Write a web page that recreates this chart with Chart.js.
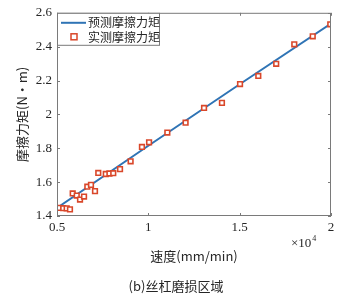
<!DOCTYPE html>
<html>
<head>
<meta charset="utf-8">
<script src="https://cdn.jsdelivr.net/npm/chart.js@4"></script>
<style>
  html, body { margin: 0; padding: 0; background: #fff; }
  #wrap { width: 349px; height: 298px; }
</style>
</head>
<body>
<div id="wrap"><canvas id="myChart" width="349" height="298"></canvas></div>
<script>
// speed in units of 10^4 mm/min, torque in N·m
const measuredSpeed = [0.511, 0.534, 0.553, 0.571, 0.586, 0.608, 0.626, 0.648, 0.666, 0.686,
    0.708, 0.726, 0.767, 0.787, 0.808, 0.845, 0.903, 0.965, 1.004, 1.104,
    1.204, 1.305, 1.403, 1.502, 1.602, 1.700, 1.799, 1.900, 1.996];
const measuredTorque = [1.448, 1.446, 1.445, 1.439, 1.533, 1.521, 1.497, 1.515, 1.573, 1.584,
    1.547, 1.654, 1.648, 1.651, 1.653, 1.677, 1.723, 1.808, 1.835, 1.893,
    1.951, 2.038, 2.068, 2.179, 2.227, 2.299, 2.414, 2.461, 2.532];
const predictedSpeed = [0.5, 1.0, 1.5, 2.0];
const predictedTorque = [1.448, 1.815, 2.178, 2.537];
const xTicks = [0.5, 1, 1.5, 2];
const yTicks = [1.4, 1.6, 1.8, 2, 2.2, 2.4, 2.6];
const seriesNames = ['预测摩擦力矩', '实测摩擦力矩'];

const lineColor = '#2f74b5';
const markColor = '#d9472a';
const textColor = '#262626';
const serif = "'Liberation Serif', 'Times New Roman', 'DejaVu Serif', serif";
const cjk = "'Noto Sans CJK SC', 'Liberation Serif', serif";

// box, inner ticks, legend and axis titles
const decor = {
    id: 'decor',
    afterDraw(chart) {
        const c = chart.ctx;
        const a = chart.chartArea;
        const xs = chart.scales.x, ys = chart.scales.y;
        c.save();
        c.strokeStyle = '#7a7a7a';
        c.lineWidth = 1;
        c.strokeRect(a.left + 0.5, a.top + 0.5, a.right - a.left - 1, a.bottom - a.top - 1);
        c.beginPath();
        xTicks.forEach(v => {
            const px = Math.round(xs.getPixelForValue(v)) + 0.5;
            c.moveTo(px, a.bottom); c.lineTo(px, a.bottom - 3);
            c.moveTo(px, a.top); c.lineTo(px, a.top + 3);
        });
        yTicks.forEach(v => {
            const py = Math.round(ys.getPixelForValue(v)) + 0.5;
            c.moveTo(a.left, py); c.lineTo(a.left + 3, py);
            c.moveTo(a.right, py); c.lineTo(a.right - 3, py);
        });
        c.stroke();

        // legend
        const lx = a.left, ly = a.top;
        c.fillStyle = '#fff';
        c.fillRect(lx + 0.5, ly + 0.5, 102, 32);
        c.strokeStyle = '#7a7a7a';
        c.strokeRect(lx + 0.5, ly + 0.5, 102, 32);
        c.strokeStyle = lineColor;
        c.lineWidth = 2;
        c.beginPath();
        c.moveTo(lx + 4, ly + 10); c.lineTo(lx + 29, ly + 10);
        c.stroke();
        c.lineWidth = 1.5;
        c.strokeStyle = markColor;
        c.fillStyle = '#fff';
        c.fillRect(lx + 14, ly + 21, 6, 6);
        c.strokeRect(lx + 14, ly + 21, 6, 6);
        c.fillStyle = textColor;
        c.font = "12px " + cjk;
        c.textAlign = 'left';
        c.textBaseline = 'middle';
        c.fillText(seriesNames[0], lx + 31, ly + 10);
        c.fillText(seriesNames[1], lx + 31, ly + 25);

        // axis titles
        c.textAlign = 'center';
        c.font = "13px " + cjk;
        c.fillText('速度(mm/min)', (a.left + a.right) / 2, 256);
        c.font = "13px " + serif;
        c.textAlign = 'left';
        c.fillText('×10', 291, 244);
        const w = c.measureText('×10').width;
        c.font = "8px " + serif;
        c.fillText('4', 291 + w + 1, 239);
        c.font = "13px " + cjk;
        c.textAlign = 'center';
        c.fillText('(b)丝杠磨损区域', 176, 286);
        c.translate(22, (a.top + a.bottom) / 2);
        c.rotate(-Math.PI / 2);
        c.fillText('摩擦力矩(N·m)', 0, 0);
        c.restore();
    }
};

const tickFmt = v => String(Math.round(v * 10) / 10);

const ctx = document.getElementById('myChart').getContext('2d');
const myChart = new Chart(ctx, {
    type: 'scatter',
    data: {
        datasets: [{
            label: seriesNames[0],
            type: 'line',
            data: predictedSpeed.map((s, i) => ({x: s, y: predictedTorque[i]})),
            borderColor: lineColor,
            borderWidth: 2,
            pointRadius: 0,
            fill: false,
            tension: 0,
            order: 2
        }, {
            label: seriesNames[1],
            data: measuredSpeed.map((s, i) => ({x: s, y: measuredTorque[i]})),
            pointStyle: 'rect',
            pointRadius: 3.3,
            borderColor: markColor,
            backgroundColor: '#fff',
            borderWidth: 1.6,
            order: 1
        }]
    },
    options: {
        responsive: false,
        animation: false,
        devicePixelRatio: 1,
        layout: { padding: { left: 0, right: 18, top: 9, bottom: 0 } },
        plugins: { legend: { display: false }, tooltip: { enabled: false } },
        scales: {
            x: {
                type: 'linear',
                min: 0.5,
                max: 2,
                afterBuildTicks: s => { s.ticks = xTicks.map(v => ({value: v})); },
                afterFit: s => { s.height = 82; },
                grid: { display: false, drawTicks: false, tickLength: 0 },
                border: { display: false },
                ticks: { color: textColor, font: { family: serif, size: 13 }, padding: 4, maxRotation: 0, callback: tickFmt }
            },
            y: {
                min: 1.4,
                max: 2.6,
                afterBuildTicks: s => { s.ticks = yTicks.map(v => ({value: v})); },
                afterFit: s => { s.width = 57; },
                grid: { display: false, drawTicks: false, tickLength: 0 },
                border: { display: false },
                ticks: { color: textColor, font: { family: serif, size: 13 }, padding: 5, callback: tickFmt }
            }
        }
    },
    plugins: [decor]
});
</script>
</body>
</html>
